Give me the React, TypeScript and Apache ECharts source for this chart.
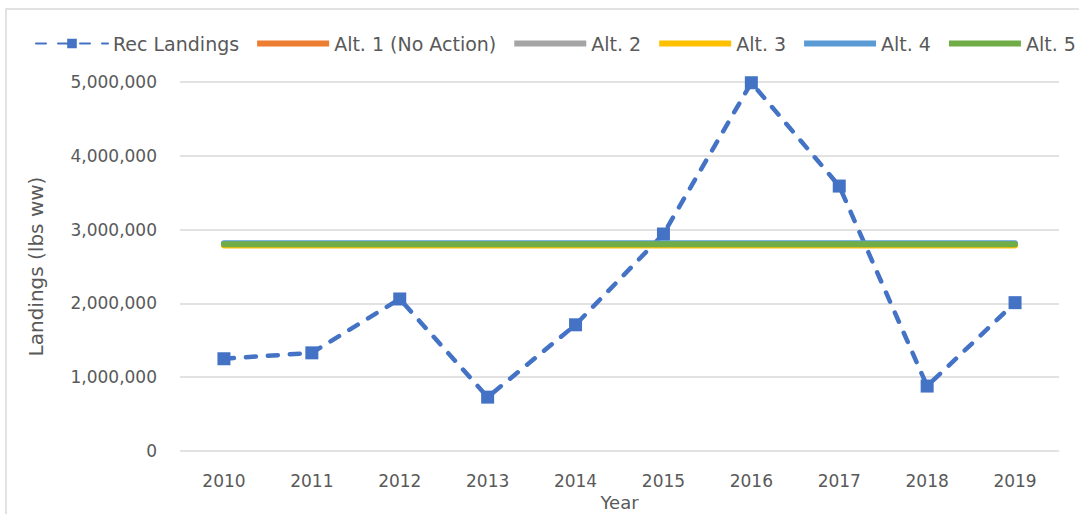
import React, { useEffect, useRef } from "react";
import * as echarts from "echarts";

const years = ["2010", "2011", "2012", "2013", "2014", "2015", "2016", "2017", "2018", "2019"];
const recLandings = [1250000, 1330000, 2060000, 730000, 1710000, 2940000, 4990000, 3590000, 880000, 2010000];
const alt1 = [2800000, 2800000, 2800000, 2800000, 2800000, 2800000, 2800000, 2800000, 2800000, 2800000];
const alt2 = [2800000, 2800000, 2800000, 2800000, 2800000, 2800000, 2800000, 2800000, 2800000, 2800000];
const alt3 = [2786000, 2786000, 2786000, 2786000, 2786000, 2786000, 2786000, 2786000, 2786000, 2786000];
const alt4 = [2814000, 2814000, 2814000, 2814000, 2814000, 2814000, 2814000, 2814000, 2814000, 2814000];
const alt5 = [2800000, 2800000, 2800000, 2800000, 2800000, 2800000, 2800000, 2800000, 2800000, 2800000];
const altNames = ["Alt. 1 (No Action)", "Alt. 2", "Alt. 3", "Alt. 4", "Alt. 5"];
const altColors = ["#ED7D31", "#A5A5A5", "#FFC000", "#5B9BD5", "#70AD47"];
const altData = [alt1, alt2, alt3, alt4, alt5];

const FONT = "'DejaVu Sans', sans-serif";
const TEXT = "#595959";

export default function App() {
  const ref = useRef<HTMLDivElement>(null);
  useEffect(() => {
    if (!ref.current) return;
    const chart = echarts.init(ref.current, undefined, { renderer: "svg" });
    chart.setOption({
      animation: false,
      backgroundColor: "#ffffff",
      textStyle: { fontFamily: FONT },
      graphic: [
        {
          type: "rect",
          shape: { x: 6, y: 9, width: 1200, height: 600 },
          style: { fill: "none", stroke: "#d9d9d9", lineWidth: 1.5 },
          silent: true,
          z: -10,
        },
      ],
      legend: {
        left: 30,
        top: 29,
        width: 1300,
        itemWidth: 72,
        itemHeight: 12,
        itemGap: 18,
        textStyle: { fontFamily: FONT, fontSize: 19, color: TEXT },
        data: [
          { name: "Rec Landings" },
          ...altNames.map((n) => ({ name: n, icon: "path://M0 0H72V6H0Z" })),
        ],
      },
      grid: { left: 180, right: 20, top: 82, bottom: 63, containLabel: false, outerBoundsMode: "none" },
      xAxis: {
        type: "category",
        data: years,
        boundaryGap: true,
        name: "Year",
        nameLocation: "middle",
        nameGap: 36,
        nameTextStyle: { fontFamily: FONT, fontSize: 18, color: TEXT },
        axisLine: { show: false },
        axisTick: { show: false },
        axisLabel: { fontFamily: FONT, fontSize: 17, color: TEXT, margin: 21 },
      },
      yAxis: {
        type: "value",
        min: 0,
        max: 5000000,
        interval: 1000000,
        name: "Landings (lbs ww)",
        nameLocation: "middle",
        nameGap: 134,
        nameTextStyle: { fontFamily: FONT, fontSize: 20, color: TEXT },
        axisLine: { show: false },
        axisTick: { show: false },
        splitLine: { lineStyle: { color: "#d9d9d9", width: 1.5 } },
        axisLabel: {
          fontFamily: FONT,
          fontSize: 17,
          color: TEXT,
          margin: 23,
          formatter: (v: number) => v.toLocaleString("en-US"),
        },
      },
      series: [
        {
          name: "Rec Landings",
          type: "line",
          data: recLandings,
          symbol: "rect",
          symbolSize: 13,
          itemStyle: { color: "#4472C4" },
          lineStyle: { color: "#4472C4", width: 4.5, type: [10, 12], cap: "round" },
          z: 2,
        },
        ...altNames.map((n, i) => ({
          name: n,
          type: "line",
          data: altData[i],
          symbol: "none",
          itemStyle: { color: altColors[i] },
          lineStyle: { color: altColors[i], width: 6, cap: "round" },
          z: 3,
        })),
      ],
    });
    return () => chart.dispose();
  }, []);
  return <div ref={ref} style={{ width: 1079, height: 514, position: "absolute", left: 0, top: 0 }} />;
}
